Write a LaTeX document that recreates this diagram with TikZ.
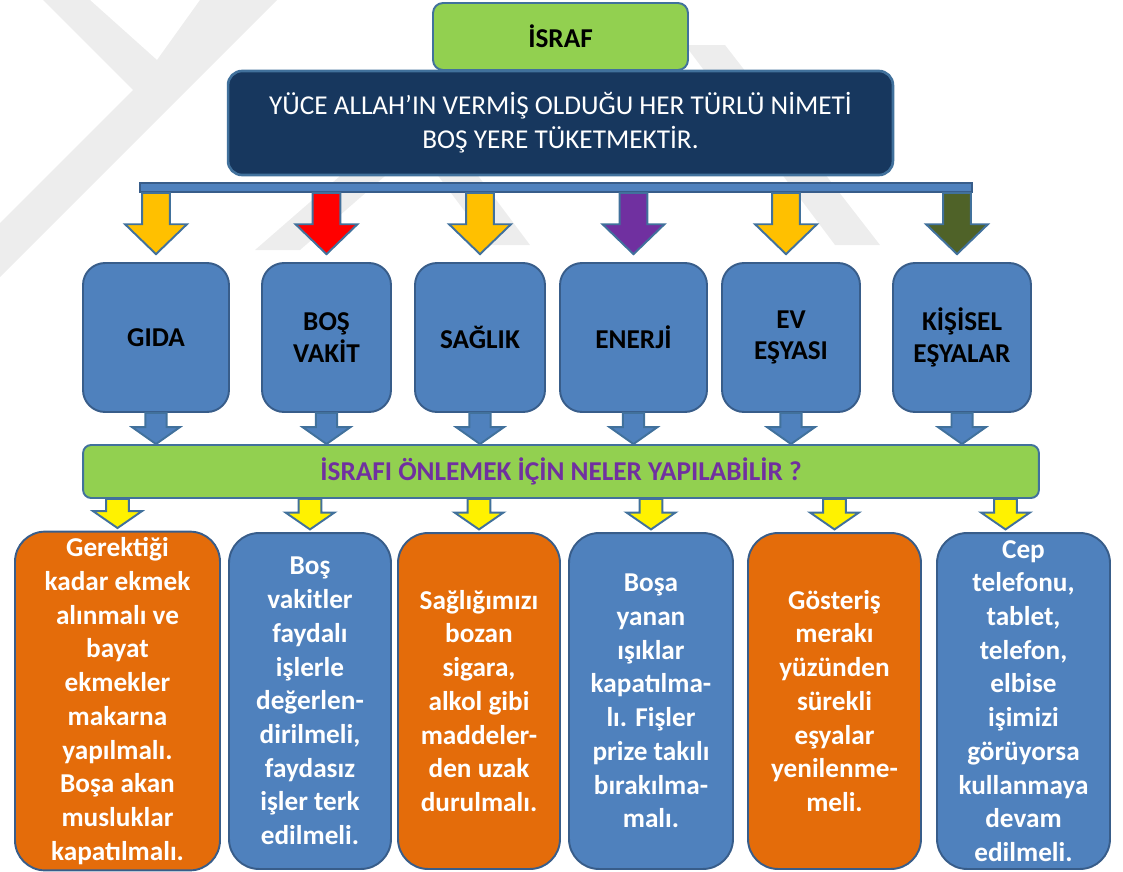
\documentclass[tikz,border=0pt]{standalone}
\usepackage{fontspec}
\setmainfont{Carlito}
\usetikzlibrary{calc}
\definecolor{limegreen}{HTML}{92D050}
\definecolor{navy}{HTML}{17375E}
\definecolor{boxblue}{HTML}{4F81BD}
\definecolor{edgeblue}{HTML}{385D8A}
\definecolor{rimblue}{HTML}{41719C}
\definecolor{burnt}{HTML}{E46C0A}
\definecolor{amber}{HTML}{FFC000}
\definecolor{plum}{HTML}{7030A0}
\definecolor{olivegreen}{HTML}{4F6228}
\definecolor{wmgray}{gray}{0.93}
\newcommand{\boxfont}{\fontsize{15.5}{19.2}\selectfont\bfseries}
\tikzset{titlebox/.style={draw=rimblue, fill=limegreen, line width=1.1pt, rounded corners=0.2cm,
    minimum width=5.1cm, minimum height=1.34cm, font=\boxfont}}
\tikzset{defbox/.style={draw=rimblue, fill=navy, line width=1.5pt, rounded corners=0.28cm, text=white,
    align=center, minimum width=13.3cm, minimum height=2.08cm, font=\fontsize{15.5}{19.3}\selectfont}}
\tikzset{catbox/.style={draw=edgeblue, fill=boxblue, line width=1.1pt, rounded corners=0.44cm,
    align=center, minimum height=2.98cm, font=\fontsize{15.5}{18.1}\selectfont\bfseries}}
\tikzset{askbar/.style={draw=rimblue, fill=limegreen, line width=1.1pt, rounded corners=0.16cm,
    text=plum, minimum width=19.12cm, minimum height=1.06cm, font=\boxfont}}
\tikzset{notebox/.style={draw=edgeblue, line width=1.1pt, rounded corners=0.6cm, text=white,
    align=center, minimum height=6.72cm, font=\boxfont}}
\tikzset{arrowline/.style={draw=rimblue, line width=1.1pt, line join=miter}}
% fill, start, tip, shaft half width, head half width, head length
\newcommand{\fatarrow}[6]{%
  \draw[arrowline, fill=#1] let \p1=#2, \p2=#3 in
    (\x2-#4,\y1) -- (\x2-#4,\y2+#6) -- (\x2-#5,\y2+#6) -- (\x2,\y2)
    -- (\x2+#5,\y2+#6) -- (\x2+#4,\y2+#6) -- (\x2+#4,\y1) -- cycle;}

\begin{document}
\begin{tikzpicture}[x=0.02cm, y=-0.02cm]
  \useasboundingbox (0,0) rectangle (1123,872);

  % faint watermark
  \fill[wmgray] (43,0) -- (90,0) -- (157,60) -- (200,0) -- (277,0) -- (0,277) -- (0,223) -- (133,90) -- cycle;
  \fill[wmgray] (340,176) -- (385,176) -- (300,250) -- (255,250) -- cycle;
  \fill[wmgray] (430,165) -- (470,165) -- (530,245) -- (490,245) -- cycle;
  \fill[wmgray] (685,45) -- (725,45) -- (880,245) -- (835,245) -- cycle;

  \node[titlebox] (israf) at (560.5,36.5) {İSRAF};
  \node[defbox] (tanim) at (560.5,123) {YÜCE ALLAH’IN VERMİŞ OLDUĞU HER TÜRLÜ NİMETİ\\BOŞ YERE TÜKETMEKTİR.};
  \node[draw=edgeblue, fill=boxblue, line width=1.1pt, inner sep=0pt,
    minimum width=16.64cm, minimum height=0.18cm] (bar) at (556,187.5) {};

  \node[catbox, minimum width=2.92cm] (gida) at (156,337.5) {GIDA};
  \node[catbox, minimum width=2.58cm] (vakit) at (326.5,337.5) {BOŞ\\VAKİT};
  \node[catbox, minimum width=2.6cm] (saglik) at (480,337.5) {SAĞLIK};
  \node[catbox, minimum width=2.94cm] (enerji) at (633.5,337.5) {ENERJİ};
  \node[catbox, minimum width=2.76cm] (esya) at (791,337.5) {EV\\EŞYASI};
  \node[catbox, minimum width=2.76cm] (kisisel) at (962,337.5) {KİŞİSEL\\EŞYALAR};

  \node[askbar] (soru) at (561,471.5) {İSRAFI ÖNLEMEK İÇİN NELER YAPILABİLİR ?};

  \node[notebox, fill=burnt, minimum width=4.1cm] (n1) at (117.5,701)
    {Gerektiği\\kadar ekmek\\alınmalı ve\\bayat\\ekmekler\\makarna\\yapılmalı.\\Boşa akan\\musluklar\\kapatılmalı.};
  \node[notebox, fill=boxblue, minimum width=3.24cm] (n2) at (310,701)
    {Boş\\vakitler\\faydalı\\işlerle\\değerlen-\\dirilmeli,\\faydasız\\işler terk\\edilmeli.};
  \node[notebox, fill=burnt, minimum width=3.24cm] (n3) at (479,701)
    {Sağlığımızı\\bozan\\sigara,\\alkol gibi\\maddeler-\\den uzak\\durulmalı.};
  \node[notebox, fill=boxblue, minimum width=3.28cm] (n4) at (651,701)
    {Boşa\\yanan\\ışıklar\\kapatılma-\\lı. Fişler\\prize takılı\\bırakılma-\\malı.};
  \node[notebox, fill=burnt, minimum width=3.46cm] (n5) at (834.5,701)
    {Gösteriş\\merakı\\yüzünden\\sürekli\\eşyalar\\yenilenme-\\meli.};
  \node[notebox, fill=boxblue, minimum width=3.46cm] (n6) at (1023.5,701)
    {Cep\\telefonu,\\tablet,\\telefon,\\elbise\\işimizi\\görüyorsa\\kullanmaya\\devam\\edilmeli.};

  % arrows from the bar
  \fatarrow{amber}{(gida |- bar.south)}{([yshift=4.5pt]gida.north)}{7.9pt}{17.6pt}{17pt}
  \fatarrow{red}{(vakit |- bar.south)}{([yshift=4.5pt]vakit.north)}{7.9pt}{17.6pt}{17pt}
  \fatarrow{amber}{(saglik |- bar.south)}{([yshift=4.5pt]saglik.north)}{7.9pt}{17.6pt}{17pt}
  \fatarrow{plum}{(enerji |- bar.south)}{([yshift=4.5pt]enerji.north)}{7.9pt}{17.6pt}{17pt}
  \fatarrow{amber}{(esya |- bar.south)}{([xshift=-0.1cm,yshift=4.5pt]esya.north)}{7.9pt}{17.6pt}{17pt}
  \fatarrow{olivegreen}{(kisisel |- bar.south)}{([xshift=-0.1cm,yshift=4.5pt]kisisel.north)}{7.9pt}{17.6pt}{17pt}

  % arrows into the question bar
  \foreach \cat in {gida,vakit,saglik,enerji,esya,kisisel}{
    \fatarrow{boxblue}{(\cat.south)}{(\cat.south |- soru.north)}{6pt}{13.6pt}{9.6pt}
  }

  % arrows into the notes
  \foreach \nn in {n1,n2,n3,n4,n5}{
    \fatarrow{yellow}{(\nn.north |- soru.south)}{([yshift=1.5pt]\nn.north)}{6.5pt}{13.9pt}{9.6pt}
  }
  \fatarrow{yellow}{(n6.north |- soru.south)}{([xshift=-0.36cm,yshift=1.5pt]n6.north)}{6.5pt}{13.9pt}{9.6pt}
\end{tikzpicture}
\end{document}
